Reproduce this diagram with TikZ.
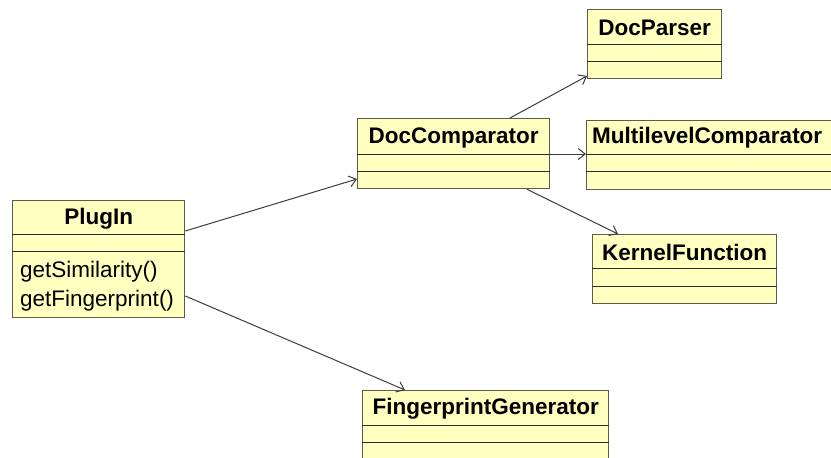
\documentclass[tikz,border=0pt]{standalone}
\usepackage{fontspec}
\setmainfont{Liberation Sans}
\usetikzlibrary{arrows.meta}
\definecolor{classfill}{RGB}{255,255,192}
\definecolor{bordercol}{RGB}{92,92,72}
\definecolor{sepcol}{RGB}{45,45,40}
\definecolor{linecol}{RGB}{60,60,60}
\tikzset{
  cls/.style={draw=bordercol, fill=classfill, line width=1.3pt, inner sep=0pt, anchor=north west},
  septxt/.style={draw=sepcol, line width=1pt},
  ttl/.style={font=\bfseries\fontsize{22.5}{26}\selectfont, inner sep=0pt},
  meth/.style={font=\fontsize{22.5}{26}\selectfont, inner sep=0pt, anchor=west},
  conn/.style={draw=linecol, line width=1pt, -{Straight Barb[length=7pt,width=11pt]}}
}
\begin{document}
\begin{tikzpicture}[x=1pt,y=-1pt]
\clip (0,0) rectangle (831,458);
\fill[white] (0,0) rectangle (831,458);

% PlugIn
\node[cls, minimum width=172pt, minimum height=117pt] (plugin) at (12,200) {};
\draw[septxt] ([yshift=-34pt]plugin.north west) -- ([yshift=-34pt]plugin.north east);
\draw[septxt] ([yshift=-51.5pt]plugin.north west) -- ([yshift=-51.5pt]plugin.north east);
\node[ttl] (plugin-t) at ([yshift=-18.5pt]plugin.north) {PlugIn};
\node[meth] (plugin-m1) at (20,272) {getSimilarity()};
\node[meth] (plugin-m2) at (20,301) {getFingerprint()};

% DocComparator
\node[cls, minimum width=192pt, minimum height=70pt] (doccomp) at (357,118) {};
\draw[septxt] ([yshift=-36pt]doccomp.north west) -- ([yshift=-36pt]doccomp.north east);
\draw[septxt] ([yshift=-53.5pt]doccomp.north west) -- ([yshift=-53.5pt]doccomp.north east);
\node[ttl] (doccomp-t) at ([yshift=-19.5pt]doccomp.north) {DocComparator};

% DocParser
\node[cls, minimum width=134pt, minimum height=69pt] (docparser) at (587,9) {};
\draw[septxt] ([yshift=-35pt]docparser.north west) -- ([yshift=-35pt]docparser.north east);
\draw[septxt] ([yshift=-52.7pt]docparser.north west) -- ([yshift=-52.7pt]docparser.north east);
\node[ttl] (docparser-t) at ([yshift=-19pt]docparser.north) {DocParser};

% MultilevelComparator
\node[cls, minimum width=260pt, minimum height=69pt] (multi) at (586,120) {};
\draw[septxt] ([yshift=-34.3pt]multi.north west) -- ([yshift=-34.3pt]multi.north east);
\draw[septxt] ([yshift=-51.7pt]multi.north west) -- ([yshift=-51.7pt]multi.north east);
\node[ttl, anchor=west] (multi-t) at ([xshift=6pt,yshift=-18pt]multi.north west) {MultilevelComparator};

% KernelFunction
\node[cls, minimum width=184pt, minimum height=69pt] (kernel) at (592,234) {};
\draw[septxt] ([yshift=-34.3pt]kernel.north west) -- ([yshift=-34.3pt]kernel.north east);
\draw[septxt] ([yshift=-52pt]kernel.north west) -- ([yshift=-52pt]kernel.north east);
\node[ttl] (kernel-t) at ([yshift=-18pt]kernel.north) {KernelFunction};

% FingerprintGenerator
\node[cls, minimum width=246pt, minimum height=80pt] (fingen) at (362,390) {};
\draw[septxt] ([yshift=-35.7pt]fingen.north west) -- ([yshift=-35.7pt]fingen.north east);
\draw[septxt] ([yshift=-52.7pt]fingen.north west) -- ([yshift=-52.7pt]fingen.north east);
\node[ttl] (fingen-t) at ([yshift=-19pt]fingen.north) {FingerprintGenerator};

% connectors
\draw[conn] ([yshift=-31pt]plugin.north east) -- ([yshift=-61pt]doccomp.north west);
\draw[conn] ([yshift=-96pt]plugin.north east) -- ([xshift=43pt]fingen.north west);
\draw[conn] ([xshift=153pt]doccomp.north west) -- ([yshift=-67pt]docparser.north west);
\draw[conn] ([yshift=-36pt]doccomp.north east) -- ([yshift=-34pt]multi.north west);
\draw[conn] ([xshift=170pt]doccomp.south west) -- ([xshift=26pt]kernel.north west);
\end{tikzpicture}
\end{document}
